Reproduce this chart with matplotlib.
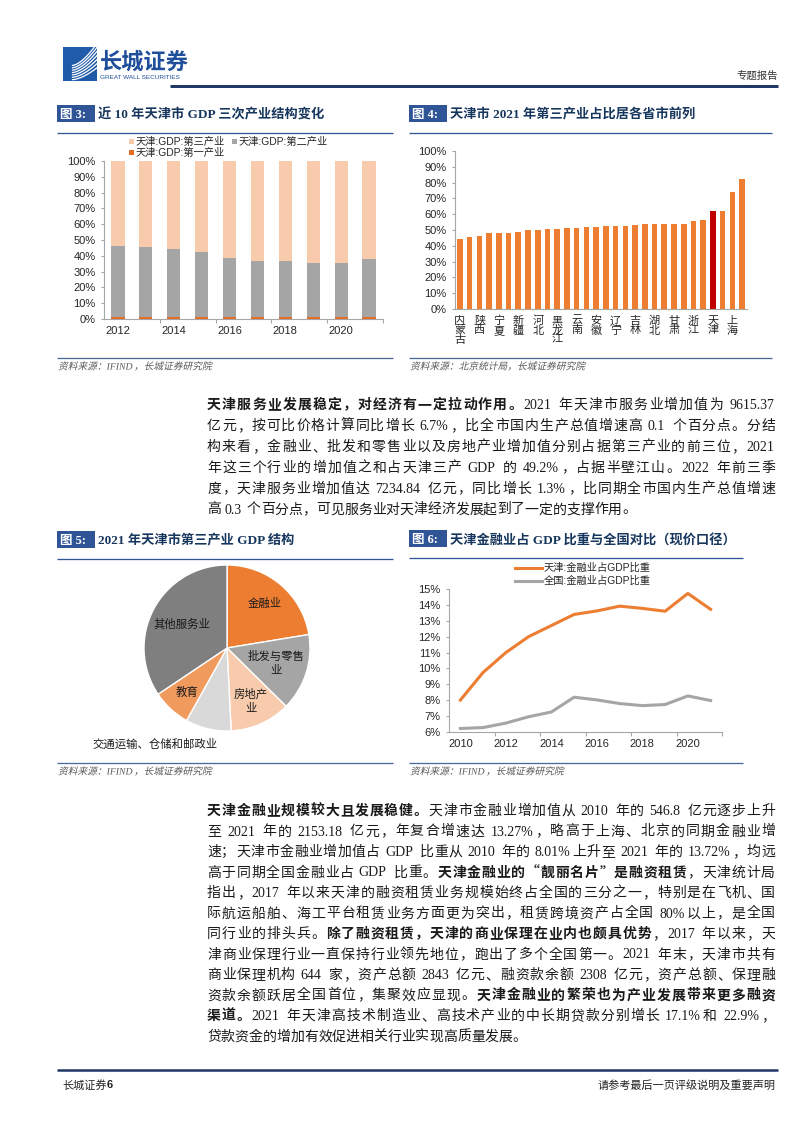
import matplotlib
matplotlib.use('Agg')
import matplotlib.pyplot as plt
import matplotlib.patches as mpatches
from matplotlib.lines import Line2D
from matplotlib.ticker import FixedLocator
from matplotlib.textpath import TextPath
from matplotlib.font_manager import FontProperties
from matplotlib.transforms import Affine2D
import numpy as np

W, H = 802, 1133
DPI = 100
CJK = 'Noto Sans CJK SC'
SANS = ['Liberation Sans', CJK]
SERIF = ['Liberation Serif', CJK]
plt.rcParams['font.family'] = SANS
plt.rcParams['axes.unicode_minus'] = False

# ---------------- data ----------------
years_fig3 = ['2012', '2013', '2014', '2015', '2016', '2017', '2018', '2019', '2020', '2021']
primary_share = [1.3, 1.3, 1.3, 1.3, 1.2, 1.2, 1.3, 1.3, 1.5, 1.4]
secondary_share = [45.2, 44.2, 42.7, 40.8, 37.5, 35.8, 35.3, 34.4, 34.2, 36.4]
tertiary_share = [53.5, 54.5, 56.0, 57.9, 61.3, 63.0, 63.4, 64.3, 64.3, 62.2]
legend_fig3 = ['天津:GDP:第三产业', '天津:GDP:第二产业', '天津:GDP:第一产业']

provinces = ['内蒙古', '福建', '陕西', '江西', '宁夏', '山西', '新疆', '广西', '河北', '河南',
             '黑龙江', '湖南', '云南', '山东', '安徽', '四川', '辽宁', '江苏', '吉林', '贵州',
             '湖北', '青海', '甘肃', '重庆', '浙江', '广东', '天津', '海南', '上海', '北京']
tertiary_2021 = [44.2, 45.5, 46.3, 48.2, 48.2, 48.4, 48.8, 49.9, 50.3, 50.5,
                 50.9, 51.2, 51.2, 51.6, 52.2, 52.4, 52.4, 52.4, 53.1, 53.5,
                 53.5, 53.5, 53.7, 54.1, 55.6, 56.6, 62.1, 62.1, 74.1, 82.3]
highlight = '天津'

pie_names = ['金融业', '批发与零售业', '房地产业', '交通运输、仓储和邮政业', '教育', '其他服务业']
pie_labels = ['金融业', '批发与零售\n业', '房地产\n业', '交通运输、仓储和邮政业', '教育', '其他服务业']
pie_values = [22.4, 15.0, 11.8, 8.9, 7.5, 34.4]

years_fig6 = ['2010', '2011', '2012', '2013', '2014', '2015', '2016', '2017', '2018', '2019', '2020', '2021']
tianjin_fin = [8.01, 9.75, 11.0, 12.0, 12.7, 13.4, 13.62, 13.92, 13.78, 13.6, 14.72, 13.72]
national_fin = [6.22, 6.28, 6.56, 6.96, 7.26, 8.19, 8.02, 7.79, 7.66, 7.73, 8.27, 7.98]
legend_fig6 = ['天津:金融业占GDP比重', '全国:金融业占GDP比重']

para1 = [
    [('天津服务业发展稳定，对经济有一定拉动作用。', True), ('2021 年天津市服务业增加值为 9615.37', False)],
    [('亿元，按可比价格计算同比增长 6.7%，比全市国内生产总值增速高 0.1 个百分点。分结', False)],
    [('构来看，金融业、批发和零售业以及房地产业增加值分别占据第三产业的前三位，2021', False)],
    [('年这三个行业的增加值之和占天津三产 GDP 的 49.2%，占据半壁江山。2022 年前三季', False)],
    [('度，天津服务业增加值达 7234.84 亿元，同比增长 1.3%，比同期全市国内生产总值增速', False)],
    [('高 0.3 个百分点，可见服务业对天津经济发展起到了一定的支撑作用。', False)],
]
para2 = [
    [('天津金融业规模较大且发展稳健。', True), ('天津市金融业增加值从 2010 年的 546.8 亿元逐步上升', False)],
    [('至 2021 年的 2153.18 亿元，年复合增速达 13.27%，略高于上海、北京的同期金融业增', False)],
    [('速；天津市金融业增加值占 GDP 比重从 2010 年的 8.01%上升至 2021 年的 13.72%，均远', False)],
    [('高于同期全国金融业占 GDP 比重。', False), ('天津金融业的“靓丽名片”是融资租赁', True), ('，天津统计局', False)],
    [('指出，2017 年以来天津的融资租赁业务规模始终占全国的三分之一，特别是在飞机、国', False)],
    [('际航运船舶、海工平台租赁业务方面更为突出，租赁跨境资产占全国 80%以上，是全国', False)],
    [('同行业的排头兵。', False), ('除了融资租赁，天津的商业保理在业内也颇具优势', True), ('，2017 年以来，天', False)],
    [('津商业保理行业一直保持行业领先地位，跑出了多个全国第一。2021 年末，天津市共有', False)],
    [('商业保理机构 644 家，资产总额 2843 亿元、融资款余额 2308 亿元，资产总额、保理融', False)],
    [('资款余额跃居全国首位，集聚效应显现。', False), ('天津金融业的繁荣也为产业发展带来更多融资', True)],
    [('渠道。', True), ('2021 年天津高技术制造业、高技术产业的中长期贷款分别增长 17.1%和 22.9%，', False)],
    [('贷款资金的增加有效促进相关行业实现高质量发展。', False)],
]

# ---------------- colours ----------------
NAVY = '#1F3864'
BOX = '#2F5597'
TITLE_C = '#17365D'
TEXT_C = '#1A1A1A'
SRC_C = '#595959'
AXIS_C = '#A6A6A6'
TICK_C = '#262626'
ORANGE = '#ED7D31'
PEACH = '#F8CBAD'
GRAY = '#A5A5A5'
PRIM = '#E46C24'
RED = '#C00000'

fig = plt.figure(figsize=(W / DPI, H / DPI), dpi=DPI)
fig.patch.set_facecolor('white')


def fx(x):
    return x / W


def fy(y):
    return 1 - y / H


def px2pt(p):
    return p * 72 / DPI


def is_cjk(ch):
    return ord(ch) > 0x2000


def hline(x0, x1, y, color, lw_px):
    fig.add_artist(Line2D([fx(x0), fx(x1)], [fy(y), fy(y)], transform=fig.transFigure,
                          color=color, lw=px2pt(lw_px), solid_capstyle='butt'))


def axes_px(x0, y0, x1, y1):
    return fig.add_axes([fx(x0), fy(y1), (x1 - x0) / W, (y1 - y0) / H])


def style_axes(ax):
    for s in ['top', 'right']:
        ax.spines[s].set_visible(False)
    for s in ['left', 'bottom']:
        ax.spines[s].set_color(AXIS_C)
        ax.spines[s].set_linewidth(0.8)
    ax.tick_params(axis='both', which='both', colors=AXIS_C, labelcolor=TICK_C,
                   labelsize=8, width=0.8)
    ax.set_facecolor('none')


def split_runs(text):
    runs = []
    for ch in text:
        k = 'cjk' if is_cjk(ch) else 'lat'
        if runs and runs[-1][0] == k:
            runs[-1][1] += ch
        else:
            runs.append([k, ch])
    return runs


def italic_text(x_px, y_base, text, size_pt, color):
    """Slanted text drawn as paths (the CJK font has no italic face)."""
    em = size_pt * DPI / 72
    x = x_px
    for kind, s in split_runs(text):
        if kind == 'cjk':
            prop = FontProperties(family=CJK)
            tp = TextPath((0, 0), s, size=size_pt, prop=prop)
            adv = em * len(s)
            skew = 13
        else:
            prop = FontProperties(family='Liberation Serif', style='italic')
            tp = TextPath((0, 0), s, size=size_pt, prop=prop)
            adv = tp.get_extents().width * DPI / 72 + 0.15 * em
            skew = 0
        tr = (Affine2D().skew_deg(skew, 0).scale(1 / 72.0)
              .translate(x / DPI, (H - y_base) / DPI) + fig.dpi_scale_trans)
        fig.add_artist(mpatches.PathPatch(tp, transform=tr, facecolor=color, lw=0))
        x += adv


def fig_title(xb, y, num, title, x_end):
    fig.add_artist(mpatches.Rectangle((fx(xb), fy(y + 8.5)), 38 / W, 17 / H,
                                      transform=fig.transFigure, color=BOX, lw=0))
    fig.text(fx(xb + 3), fy(y), '图 %s:' % num, color='white', fontsize=9, weight='bold',
             family=SERIF, va='center_baseline', ha='left')
    fig.text(fx(xb + 41), fy(y), title, color=TITLE_C, fontsize=9.5, weight='bold',
             family=SERIF, va='center_baseline', ha='left')
    hline(xb, x_end, y + 19, BOX, 1.3)


def source(x0, x1, y, text):
    hline(x0, x1, y, '#4A6A9A', 1.3)
    italic_text(x0 + 1, y + 11.5, text, 7, SRC_C)


# ---------------- header ----------------
axl = axes_px(63, 47, 97, 81)
axl.set_xlim(0, 1)
axl.set_ylim(0, 1)
axl.axis('off')
axl.add_patch(mpatches.Rectangle((0, 0), 1, 1, color='#1F5BA8', lw=0))
tt = np.linspace(0, 1, 40)
for k in range(7):
    xs = 0.28 + 0.72 * tt
    ys = 0.04 + 0.07 * k + (0.35 + 0.05 * k) * tt ** 1.6
    axl.plot(xs, ys, color='white', lw=0.9)
fig.text(fx(100), fy(62), '长城证券', fontsize=16, weight='bold', color='#1F4E9A',
         family=CJK, va='center', ha='left')
fig.text(fx(100), fy(77.5), 'GREAT WALL SECURITIES', fontsize=4.6, color='#1F4E9A',
         va='center', ha='left')
hline(170, 778, 86, NAVY, 3)
fig.text(fx(778), fy(76), '专题报告', fontsize=7.5, color='#333333', family=CJK,
         va='center', ha='right')

# ---------------- figure 3 ----------------
fig_title(57, 113.5, '3', '近 10 年天津市 GDP 三次产业结构变化', 393)
ax3 = axes_px(104, 161, 383, 319)
style_axes(ax3)
x3 = np.arange(len(years_fig3))
bw3 = 0.47
ax3.bar(x3, primary_share, width=bw3, color=PRIM, lw=0)
ax3.bar(x3, secondary_share, width=bw3, bottom=primary_share, color=GRAY, lw=0)
ax3.bar(x3, tertiary_share, width=bw3, bottom=np.add(primary_share, secondary_share),
        color=PEACH, lw=0)
ax3.set_xlim(-0.5, len(years_fig3) - 0.5)
ax3.set_ylim(0, 100)
ax3.set_yticks(np.arange(0, 101, 10))
ax3.set_yticklabels(['%d%%' % v for v in range(0, 101, 10)])
ax3.set_xticks(x3[::2])
ax3.set_xticklabels(years_fig3[::2])
ax3.xaxis.set_minor_locator(FixedLocator(np.arange(1.5, len(years_fig3), 2)))
ax3.tick_params(axis='x', which='major', length=0, pad=5)
ax3.tick_params(axis='x', which='minor', length=3)
ax3.tick_params(axis='y', length=2.5, pad=3.5)

for (lx, ly), col, lab in zip([(129, 141.5), (232, 141.5), (129, 152.5)],
                              [PEACH, GRAY, PRIM], legend_fig3):
    fig.add_artist(mpatches.Rectangle((fx(lx), fy(ly + 2.7)), 5.4 / W, 5.4 / H,
                                      transform=fig.transFigure, color=col, lw=0))
    fig.text(fx(lx + 6.5), fy(ly), lab, fontsize=7.4, color=TICK_C, va='center', ha='left')
source(57, 393, 358, '资料来源：IFIND，长城证券研究院')

# ---------------- figure 4 ----------------
fig_title(409, 113.5, '4', '天津市 2021 年第三产业占比居各省市前列', 772)
ax4 = axes_px(455, 151, 747, 309)
style_axes(ax4)
x4 = np.arange(len(provinces))
cols4 = [RED if p == highlight else ORANGE for p in provinces]
ax4.bar(x4, tertiary_2021, width=0.58, color=cols4, lw=0)
ax4.set_xlim(-0.5, len(provinces) - 0.5)
ax4.set_ylim(0, 100)
ax4.set_yticks(np.arange(0, 101, 10))
ax4.set_yticklabels(['%d%%' % v for v in range(0, 101, 10)])
ax4.set_xticks(x4[::2])
ax4.set_xticklabels(['\n'.join(p) for p in provinces[::2]], fontsize=8, linespacing=0.92,
                    family=CJK)
ax4.tick_params(axis='x', length=0, pad=5)
ax4.tick_params(axis='y', length=2.5, pad=3.5)
source(409, 772, 358, '资料来源：北京统计局，长城证券研究院')

# ---------------- figure 5 ----------------
fig_title(57, 539.5, '5', '2021 年天津市第三产业 GDP 结构', 393)
ax5 = axes_px(144, 565, 310, 731)
pie_cols = [ORANGE, GRAY, PEACH, '#D9D9D9', '#F19A5E', '#7F7F7F']
wedges, _ = ax5.pie(pie_values, colors=pie_cols, startangle=90, counterclock=False,
                    radius=1, wedgeprops=dict(edgecolor='white', linewidth=1.0))
ax5.set_xlim(-1, 1)
ax5.set_ylim(-1, 1)
ax5.set_aspect('equal')
ax5.axis('off')
label_r = [0.70, 0.62, 0.70, None, 0.72, 0.62]
for w, lab, r in zip(wedges, pie_labels, label_r):
    if r is None:
        continue
    ang = np.deg2rad((w.theta1 + w.theta2) / 2)
    ax5.text(r * np.cos(ang), r * np.sin(ang), lab, ha='center', va='center', fontsize=8.2,
             color='#1A1A1A', family=CJK, linespacing=1.5)
ax5.text(-1.62, -1.16, pie_labels[3], ha='left', va='center', fontsize=8.2, color='#1A1A1A',
         family=CJK, clip_on=False)
source(57, 393, 763, '资料来源：IFIND，长城证券研究院')

# ---------------- figure 6 ----------------
fig_title(409, 538.5, '6', '天津金融业占 GDP 比重与全国对比（现价口径）', 743)
ax6 = axes_px(449, 589, 722, 732)
style_axes(ax6)
x6 = np.arange(len(years_fig6))
ax6.plot(x6, tianjin_fin, color=ORANGE, lw=2.2, solid_joinstyle='round')
ax6.plot(x6, national_fin, color=GRAY, lw=2.2, solid_joinstyle='round')
ax6.set_xlim(-0.5, len(years_fig6) - 0.5)
ax6.set_ylim(6, 15)
ax6.set_yticks(np.arange(6, 16, 1))
ax6.set_yticklabels(['%d%%' % v for v in range(6, 16)])
ax6.set_xticks(x6[::2])
ax6.set_xticklabels(years_fig6[::2])
ax6.xaxis.set_minor_locator(FixedLocator(np.arange(1.5, len(years_fig6), 2)))
ax6.tick_params(axis='x', which='major', length=0, pad=5)
ax6.tick_params(axis='x', which='minor', length=3)
ax6.tick_params(axis='y', length=2.5, pad=3.5)
for ly, col, lab in zip([568, 581], [ORANGE, GRAY], legend_fig6):
    fig.add_artist(Line2D([fx(515), fx(542)], [fy(ly), fy(ly)], transform=fig.transFigure,
                          color=col, lw=2.2))
    fig.text(fx(544), fy(ly), lab, fontsize=7.4, color=TICK_C, va='center', ha='left')
source(409, 743, 763, '资料来源：IFIND，长城证券研究院')

# ---------------- body text ----------------
renderer = fig.canvas.get_renderer()
_wcache = {}


def lat_width(s, fs, bold):
    key = (s, fs, bold)
    if key not in _wcache:
        t = fig.text(0, 0, s, fontsize=fs, family='Liberation Serif',
                     weight='bold' if bold else 'normal')
        _wcache[key] = t.get_window_extent(renderer).width
        t.remove()
    return _wcache[key]


def tokenize(segs):
    toks = []
    for text, bold in segs:
        i = 0
        while i < len(text):
            c = text[i]
            if c == ' ':
                toks.append((' ', bold, 'space'))
                i += 1
            elif is_cjk(c):
                toks.append((c, bold, 'cjk'))
                i += 1
            else:
                j = i
                while j < len(text) and text[j] != ' ' and not is_cjk(text[j]):
                    j += 1
                toks.append((text[i:j], bold, 'lat'))
                i = j
    return toks


def draw_line(segs, x0, x1, y, fs, justify):
    em = fs * DPI / 72
    toks = tokenize(segs)
    widths = []
    for s, b, kind in toks:
        if kind == 'cjk':
            widths.append(em)
        elif kind == 'space':
            widths.append(0.28 * em)
        else:
            widths.append(lat_width(s, fs, b) + 0.08 * em)
    total = sum(widths)
    gap = (x1 - x0 - total) / (len(toks) - 1) if (justify and len(toks) > 1) else 0.0
    x = x0
    base = y + 0.36 * em
    for (s, b, kind), w in zip(toks, widths):
        if kind != 'space':
            fam = CJK if kind == 'cjk' else 'Liberation Serif'
            fig.text(fx(x), fy(base), s, fontsize=fs, family=fam,
                     weight='bold' if b else 'normal', color=TEXT_C, ha='left', va='baseline')
        x += w + gap


def draw_paragraph(lines, x0, x1, y0, dy, fs):
    for i, segs in enumerate(lines):
        draw_line(segs, x0, x1, y0 + i * dy, fs, justify=(i < len(lines) - 1))


draw_paragraph(para1, 207, 775, 404, 20.9, 10)
draw_paragraph(para2, 207, 775, 810, 20.5, 10)

# ---------------- footer ----------------
hline(57, 778, 1070, NAVY, 2.5)
fig.text(fx(62), fy(1085), '长城证券', fontsize=8, color='#222222', family=CJK, va='center', ha='left')
fig.text(fx(62 + 44.5), fy(1085), '6', fontsize=8, color='#222222', weight='bold', va='center', ha='left')
fig.text(fx(776), fy(1085), '请参考最后一页评级说明及重要声明', fontsize=8, color='#222222',
         family=CJK, va='center', ha='right')

fig.savefig('out.png', dpi=DPI, facecolor='white')
